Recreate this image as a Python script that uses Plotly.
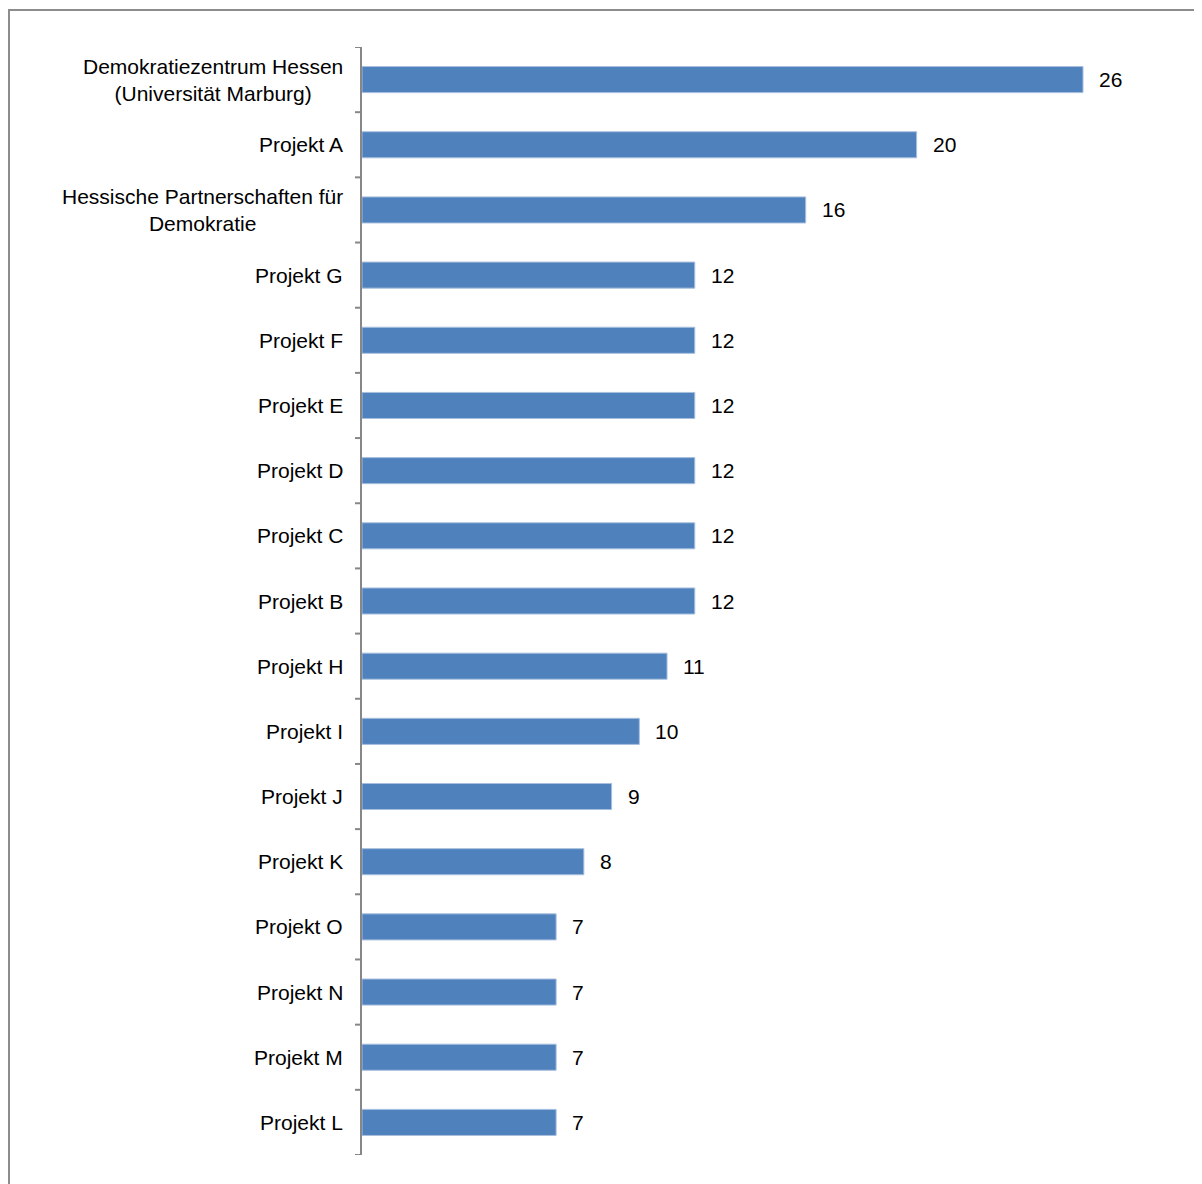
import plotly.graph_objects as go

categories = [
    "Demokratiezentrum Hessen<br>(Universität Marburg)",
    "Projekt A",
    "Hessische Partnerschaften für<br>Demokratie",
    "Projekt G", "Projekt F", "Projekt E", "Projekt D", "Projekt C", "Projekt B",
    "Projekt H", "Projekt I", "Projekt J", "Projekt K",
    "Projekt O", "Projekt N", "Projekt M", "Projekt L",
]
values = [26, 20, 16, 12, 12, 12, 12, 12, 12, 11, 10, 9, 8, 7, 7, 7, 7]

FONT = "Liberation Sans, Arial, sans-serif"
BAR = "#4F81BD"
GRAY = "#878787"

fig = go.Figure()
fig.add_trace(go.Bar(
    x=values, y=list(range(len(categories))), orientation="h",
    width=0.4,
    marker=dict(color=BAR, line=dict(color="#A7BFDE", width=1)),
    hoverinfo="x",
))

annotations = []
for i, (c, v) in enumerate(zip(categories, values)):
    annotations.append(dict(
        x=0, y=i, xref="x", yref="y", text=c, showarrow=False,
        xanchor="right", yanchor="middle", align="center", xshift=-17,
        font=dict(family=FONT, size=21, color="#000000"),
    ))
    annotations.append(dict(
        x=v, y=i, xref="x", yref="y", text=str(v), showarrow=False,
        xanchor="left", yanchor="middle", xshift=14,
        font=dict(family=FONT, size=21, color="#000000"),
    ))

# page body adds an 8px offset; figure sized to fit window
W, H = 1194, 1176
L, R, T, B = 354, 40, 39, 29
pw, ph = W - L - R, H - T - B

fig.update_layout(
    width=W, height=H,
    margin=dict(l=L, r=R, t=T, b=B),
    paper_bgcolor="white", plot_bgcolor="white",
    showlegend=False,
    annotations=annotations,
    xaxis=dict(range=[0, pw / (721 / 26)], visible=False, showgrid=False, zeroline=False),
    yaxis=dict(
        range=[len(categories) - 0.5, -0.5],
        tickmode="array", tickvals=list(range(len(categories))),
        showticklabels=False, ticks="", showgrid=False, zeroline=False,
        showline=True, linecolor=GRAY, linewidth=2,
    ),
    shapes=[
        dict(type="rect", xref="paper", yref="paper",
             x0=(1 - L) / pw, x1=1.2, y0=-0.2, y1=1 + (T - 2) / ph,
             line=dict(color="#8C8C8C", width=2), layer="below"),
    ] + [
        dict(type="line", xref="paper", yref="y",
             x0=-7 / pw, x1=0, y0=k - 0.5, y1=k - 0.5,
             line=dict(color=GRAY, width=2))
        for k in range(len(categories) + 1)
    ],
)

fig.write_html("out.html")
